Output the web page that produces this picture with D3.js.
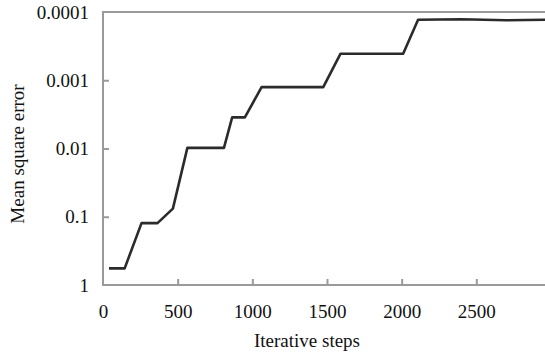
<!DOCTYPE html>
<html>
  <head>
    <meta charset="utf-8">
    <title>Mean square error vs iterative steps</title>
    <script src="https://d3js.org/d3.v7.min.js"></script>
    <style>
      body { margin: 0; background: #fff; }
      text { font-family: "Liberation Serif", "Times New Roman", serif; fill: #111; }
      .frame { fill: none; stroke: #9a9a9a; stroke-width: 2; }
      .curve { fill: none; stroke: #2b2b2b; stroke-width: 2.6; stroke-linejoin: round; }
    </style>
  </head>
  <body>
    <svg width="545" height="354"></svg>
    <script>
      // steps
      var steps = [40, 145, 258, 365, 468, 565, 810, 865, 950, 1062, 1475, 1590, 2010, 2110, 2400, 2700, 2960];
      var mse   = [0.57, 0.57, 0.124, 0.124, 0.076, 0.0098, 0.0098, 0.0035, 0.0035, 0.00126, 0.00126,
                   0.00041, 0.00041, 0.00013, 0.000128, 0.000132, 0.00013];
      var xTicks = [0, 500, 1000, 1500, 2000, 2500];
      var yTicks = [1, 0.1, 0.01, 0.001, 0.0001];
      var yLabels = ["1", "0.1", "0.01", "0.001", "0.0001"];

      var data = steps.map(function(s, i) { return {step: s, err: mse[i]}; });

      var svg = d3.select("svg");

      var x = d3.scaleLinear().domain([0, 2960]).range([103, 545]);
      var y = d3.scaleLog().domain([1, 0.0001]).range([285, 12]);

      // frame (left, top, bottom)
      svg.append("path")
          .attr("class", "frame")
          .attr("d", "M" + 547 + "," + y(0.0001) + "H" + x(0) + "V" + y(1) + "H" + 547);

      // x ticks, pointing inward
      var xAxis = svg.append("g")
          .attr("transform", "translate(0," + y(1) + ")")
          .call(d3.axisBottom(x).tickValues(xTicks).tickSize(-6).tickPadding(20)
                .tickFormat(d3.format("d")));
      xAxis.select(".domain").remove();
      xAxis.selectAll(".tick line").attr("stroke", "#9a9a9a").attr("stroke-width", 2)
          .filter(function(d) { return d === 0; }).remove();
      xAxis.selectAll("text").attr("font-size", 19).attr("fill", "#111")
          .attr("font-family", "Liberation Serif");

      var yAxis = svg.append("g")
          .attr("transform", "translate(" + x(0) + ",0)")
          .call(d3.axisLeft(y).tickValues(yTicks).tickSize(-6).tickPadding(14)
                .tickFormat(function(d, i) { return yLabels[i]; }));
      yAxis.select(".domain").remove();
      yAxis.selectAll(".tick line").attr("stroke", "#9a9a9a").attr("stroke-width", 2)
          .filter(function(d) { return d === 1 || d === 0.0001; }).remove();
      yAxis.selectAll("text").attr("font-size", 19).attr("fill", "#111")
          .attr("font-family", "Liberation Serif");

      var line = d3.line()
          .x(function(d) { return x(d.step); })
          .y(function(d) { return y(d.err); });

      svg.append("path")
          .datum(data)
          .attr("class", "curve")
          .attr("d", line);

      svg.append("text")
          .attr("x", 307)
          .attr("y", 347)
          .attr("text-anchor", "middle")
          .attr("font-size", 19)
          .text("Iterative steps");

      svg.append("text")
          .attr("transform", "translate(24,154) rotate(-90)")
          .attr("text-anchor", "middle")
          .attr("font-size", 19)
          .text("Mean square error");
    </script>
  </body>
</html>
